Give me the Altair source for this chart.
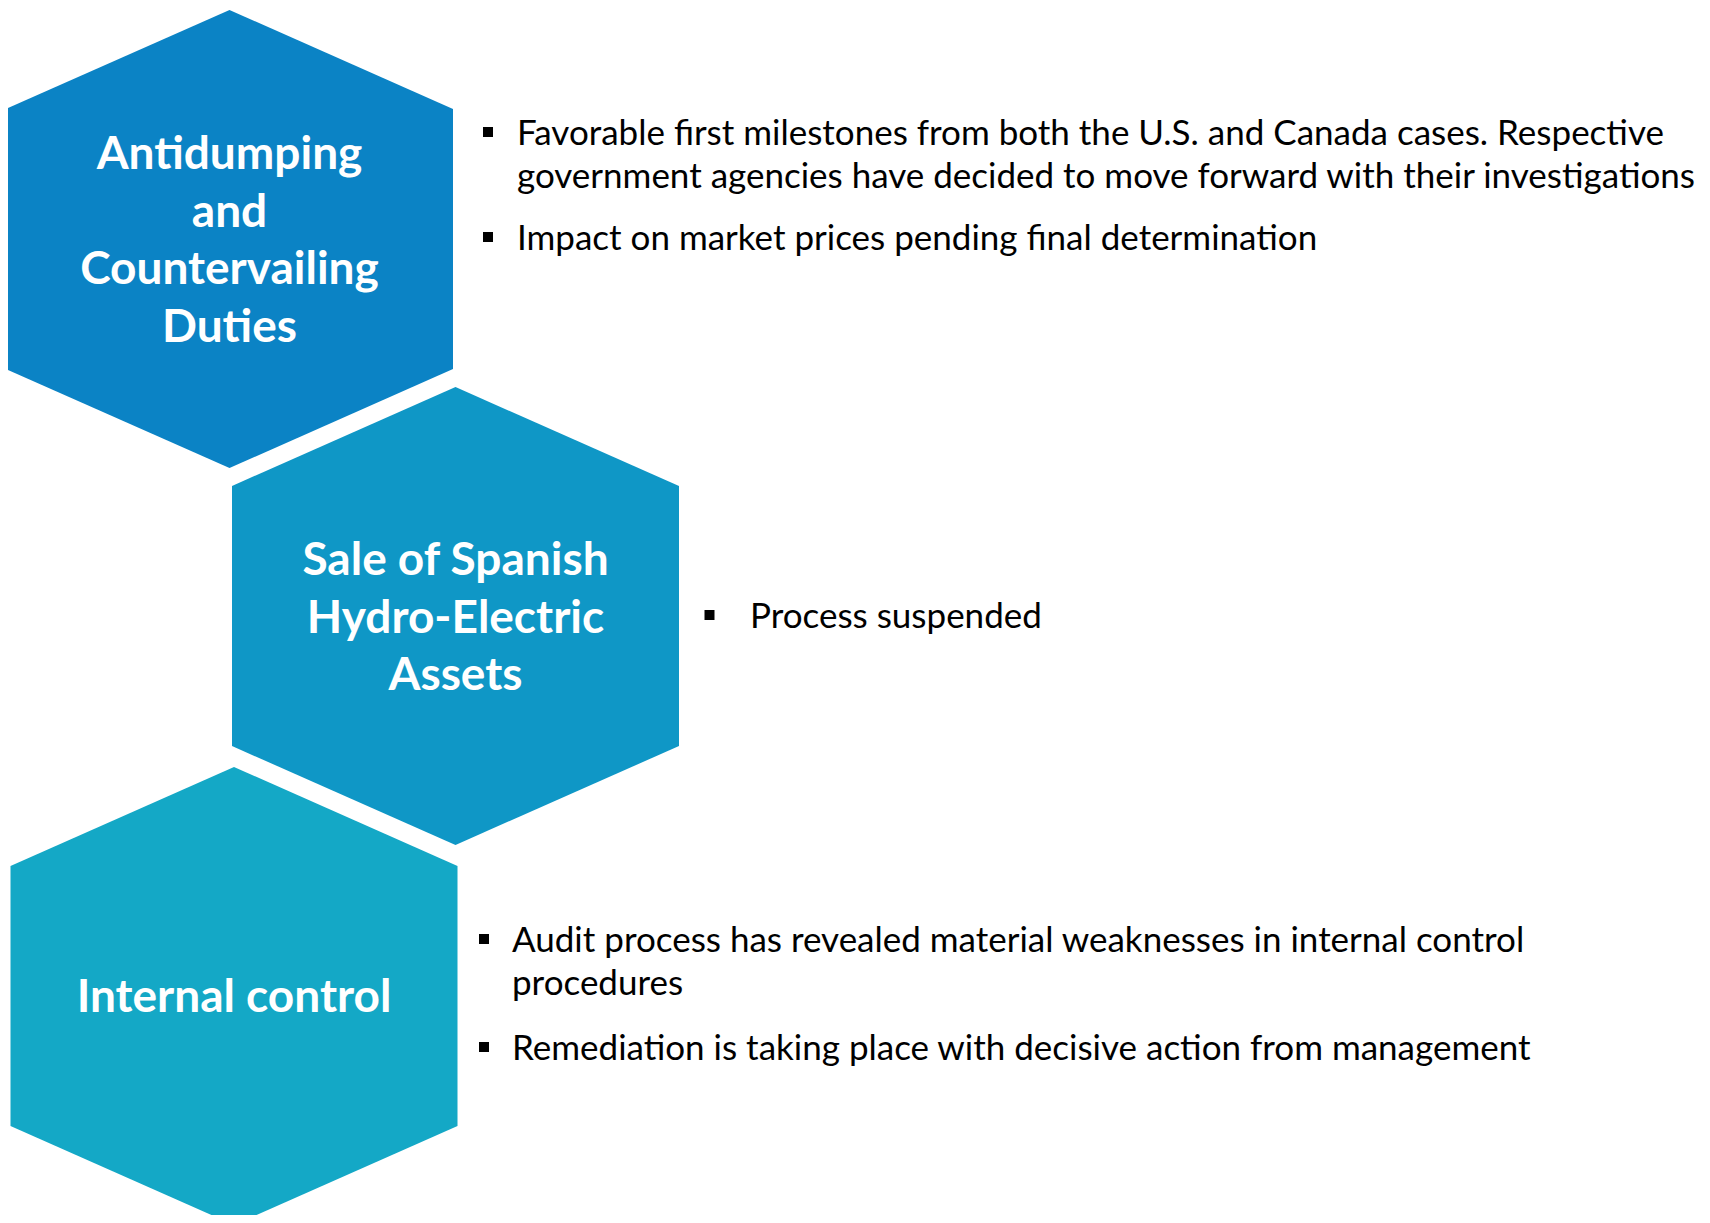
import altair as alt
import pandas as pd

# ---- content ----
titles = [
    "Antidumping\nand\nCountervailing\nDuties",
    "Sale of Spanish\nHydro-Electric\nAssets",
    "Internal control",
]
hex_colors = ["#0B83C5", "#0F97C6", "#14A8C6"]
bullets = [
    [
        "Favorable first milestones from both the U.S. and Canada cases. Respective\ngovernment agencies have decided to move forward with their investigations",
        "Impact on market prices pending final determination",
    ],
    ["Process suspended"],
    [
        "Audit process has revealed material weaknesses in internal control\nprocedures",
        "Remediation is taking place with decisive action from management",
    ],
]

# ---- layout (image pixel coordinates) ----
hex_cx = [229.5, 455.5, 234]
hex_cy = [239, 616, 996]
HALF_W = 223.5
HALF_H = 229
SHOULDER = 130
title_base = [169, 575, 1012]
TITLE_LH = 57.5
bullet_text_x = [517, 750, 512]
bullet_gap = [29, 40.5, 28]
bullet_base = [[145, 250], [628], [952, 1060]]
BULLET_LH = 43
BULLET_DY = 13

# hexagons as areas between upper and lower boundary
hex_rows = []
for i, name in enumerate(titles):
    cx, cy = hex_cx[i], hex_cy[i]
    hex_rows += [
        dict(hid=name, x=cx - HALF_W, y=cy - SHOULDER, y2=cy + SHOULDER),
        dict(hid=name, x=cx, y=cy - HALF_H, y2=cy + HALF_H),
        dict(hid=name, x=cx + HALF_W, y=cy - SHOULDER, y2=cy + SHOULDER),
    ]
hex_df = pd.DataFrame(hex_rows)

title_df = pd.DataFrame(
    [dict(t=t, x=hex_cx[i], y=title_base[i]) for i, t in enumerate(titles)]
)

b_rows = []
for g, items in enumerate(bullets):
    for k, txt in enumerate(items):
        b_rows.append(
            dict(t=txt, x=bullet_text_x[g], y=bullet_base[g][k],
                 bx=bullet_text_x[g] - bullet_gap[g], by=bullet_base[g][k] - BULLET_DY)
        )
b_df = pd.DataFrame(b_rows)

xs = alt.Scale(domain=[8, 1702], nice=False, zero=False)
ys = alt.Scale(domain=[8, 1215], nice=False, zero=False, reverse=True)

hexes = alt.Chart(hex_df).mark_area(clip=True, opacity=1).encode(
    x=alt.X("x:Q", scale=xs, axis=None),
    y=alt.Y("y:Q", scale=ys, axis=None, stack=None),
    y2="y2:Q",
    color=alt.Color("hid:N", scale=alt.Scale(domain=titles, range=hex_colors), legend=None),
)

title_txt = alt.Chart(title_df).mark_text(
    font="Lato", fontWeight="bold", fontSize=46, color="white",
    align="center", baseline="alphabetic", lineBreak="\n", lineHeight=TITLE_LH,
).encode(
    x=alt.X("x:Q", scale=xs, axis=None),
    y=alt.Y("y:Q", scale=ys, axis=None),
    text="t:N",
)

squares = alt.Chart(b_df).mark_square(size=100, color="black", opacity=1).encode(
    x=alt.X("bx:Q", scale=xs, axis=None),
    y=alt.Y("by:Q", scale=ys, axis=None),
)

b_txt = alt.Chart(b_df).mark_text(
    font="Lato", fontSize=35, color="black",
    align="left", baseline="alphabetic", lineBreak="\n", lineHeight=BULLET_LH,
).encode(
    x=alt.X("x:Q", scale=xs, axis=None),
    y=alt.Y("y:Q", scale=ys, axis=None),
    text="t:N",
)

chart = alt.layer(hexes, title_txt, squares, b_txt).properties(
    width=1694, height=1207, autosize=alt.AutoSizeParams(type="none"), padding=0
).configure_view(stroke=None)

chart.save("out.html", embed_options={"renderer": "svg", "actions": False})
